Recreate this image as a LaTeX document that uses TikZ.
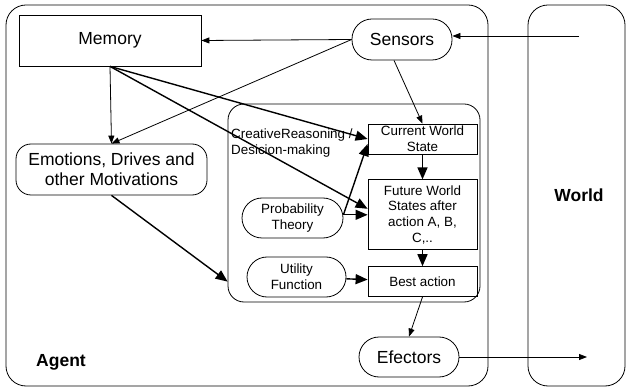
\documentclass[tikz,border=0pt]{standalone}
\usepackage{fontspec}
\setmainfont{Liberation Sans}
\usepackage{tikz}
\usetikzlibrary{arrows.meta,positioning}
\newcommand{\bigfont}{\fontsize{17.5}{20}\selectfont}
\newcommand{\smallfont}{\fontsize{13.4}{15.6}\selectfont}
\tikzset{
  mblock/.style={
    rectangle, draw, line width=0.8pt, align=center, inner sep=2pt, font=\bigfont
  },
  mpill/.style={
    rectangle, draw, line width=0.8pt, rounded corners=20pt, align=center,
    inner sep=2pt, font=\bigfont
  },
  spill/.style={
    rectangle, draw, line width=0.8pt, rounded corners=20pt, align=center,
    inner sep=1pt, font=\smallfont
  },
  wblock/.style={
    rectangle, draw, line width=0.8pt, minimum width=109pt, align=center,
    inner sep=1pt, font=\smallfont
  },
  marrow/.style={draw, line width=0.8pt, -{Triangle[length=8pt,width=6pt]}},
  mbigarrow/.style={draw, line width=1.4pt, -{Triangle[length=12pt,width=10pt]}}
}

\begin{document}
\begin{tikzpicture}[x=1pt, y=-1pt, node distance=20pt]
        \useasboundingbox (0,0) rectangle (626,387);
        % agent and world
        \draw[line width=0.8pt, rounded corners=20pt] (6,5) rectangle (488,386);
        \draw[line width=0.8pt, rounded corners=20pt] (528,5) rectangle (625,386);
        \node[font=\bigfont\bfseries] (agent) at (61,362) {Agent};
        \node[font=\bigfont\bfseries] (world) at (579,195) {World};
        % reasoning part
        \node[draw, line width=0.8pt, rounded corners=16pt,
              minimum width=252pt, minimum height=198pt] (reason) at (354,203) {};
        \node[font=\smallfont, align=left, anchor=north west,
              inner sep=0pt] (rlabel) at (231,129) {CreativeReasoning /\\Desicion-making};
        \node[wblock, minimum height=30pt]                 (cur) at (422.5,139) {Current World\\State};
        \node[wblock, below=25pt of cur, minimum height=70pt]  (fut) {Future World\\States after\\action A, B,\\C,..};
        \node[wblock, below=16pt of fut, minimum height=30pt]  (best) {Best action};
        \node[spill, minimum width=101pt, minimum height=40pt] (prob) at (292.5,218) {Probability\\Theory};
        \node[spill, minimum width=99pt, minimum height=40pt]  (util) at (296.5,277) {Utility\\Function};
        % agent parts
        \node[mblock, minimum width=182pt, minimum height=51pt]  (mem) at (110,40.5) {Memory};
        \node[mpill, minimum width=100pt, minimum height=41pt]   (sens) at (402,39.5) {Sensors};
        \node[mpill, rounded corners=15pt, minimum width=191pt,
              minimum height=51pt]                               (emo) at (111.5,169.5) {Emotions, Drives and\\other Motivations};
        \node[mpill, minimum width=100pt, minimum height=40pt]   (efe) at (409,357) {Efectors};
        \coordinate (win) at (579,36);
        \coordinate (wout) at (587,357);
        % connectors
        \foreach \i/\j in {sens.west/mem.east, mem.south/emo.north, sens.west/emo.north,
                           best.south/efe.north, efe.east/wout}
          \draw[marrow] (\i) -- (\j);
        \draw[marrow] ([xshift=-8pt]sens.south) -- (cur.north);
        \draw[marrow] (win) -- (win -| sens.east);
        \foreach \i/\j in {mem.south/cur.west, cur/fut, fut/best, util/best}
          \draw[mbigarrow] (\i) -- (\j);
        \draw[mbigarrow] (mem.south) -- ([yshift=6pt]fut.west);
        \draw[mbigarrow] (prob.east |- fut.west) -- (fut.west);
        \draw[mbigarrow] (prob.east |- fut.west) -- ([yshift=-5pt]cur.west);
        \draw[mbigarrow] (emo.south) -- (reason.west |- best);
      \end{tikzpicture}
\end{document}
